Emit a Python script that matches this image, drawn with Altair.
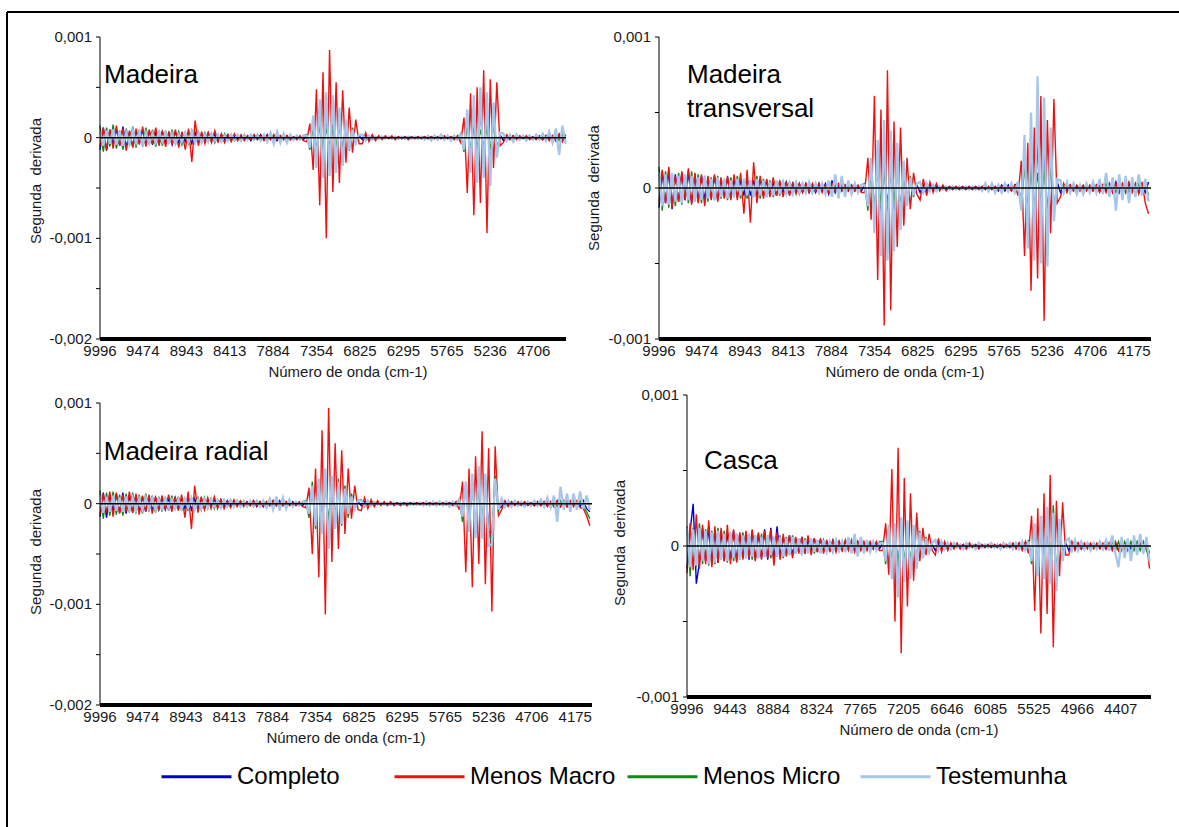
import altair as alt
import pandas as pd

# ---------------- sampling axis (wavenumber, cm-1) ----------------
WN_STEP = 40
N_POINTS = 151
WAVENUMBERS = [9996 - WN_STEP * i for i in range(N_POINTS)]

SERIES = ["Completo", "Menos Macro", "Menos Micro", "Testemunha"]
COLORS = ["#0000d0", "#ee1111", "#138a1a", "#a6c6ea"]

TICKS_WOOD = [9996, 9474, 8943, 8413, 7884, 7354, 6825, 6295, 5765, 5236, 4706, 4175]
TICKS_CASCA = [9996, 9443, 8884, 8324, 7765, 7205, 6646, 6085, 5525, 4966, 4407]
YTICKS_3 = [-0.002, -0.0015, -0.001, -0.0005, 0.0, 0.0005, 0.001]
YTICKS_2 = [-0.001, -0.0005, 0.0, 0.0005, 0.001]
YLAB_VALS_3 = [0.001, 0.0, -0.001, -0.002]
YLAB_TEXT_3 = ["0,001", "0", "-0,001", "-0,002"]
YLAB_VALS_2 = [0.001, 0.0, -0.001]
YLAB_TEXT_2 = ["0,001", "0", "-0,001"]

# ---------------- second-derivative values, units of 1e-5 ----------------
# ---- Madeira ----
MADEIRA_COMPLETO = (
    [-12,10,-13,8,-7,9,-8,11,-10,6, -9,7,-6,8,-8,7,-7,5,-6,6, -5,5,-7,6,-5,4,-4,6,-6,5] +
    [-5,4,-4,5,-3,3,-4,3,-2,3, -3,2,-2,2,-2,2,-3,2,-2,3, -2,3,-2,2,-3,2,-2,2,-2,1, -1,1,-2] +
    [2,-8,12,-15,20,-18,22,-20,18,-16, 14,-12,10,-8,6,-4,2] +
    [-2,2,-2,1,-1,1,-1,1,-1,1, -1,1,-1,1,-1,1,-1,1,-1,1, -1,1,-1,1,-1,1,-1,1,-1,1] +
    [2,-8,18,-22,26,-28,30,-26,28,-30, 22,-12,3] +
    [-3,2,-2,2,-1,1,-1,1,-1,1, -1,1,-2,2,-2,2,-3,3,-3,3, -2,2,-2,2,-2,2,-2,3]
)
MADEIRA_MENOS_MACRO = (
    [-9,10,-12,8,-11,12,-8,9,-13,7, -10,9,-7,11,-9,8,-6,10,-8,7, -9,6,-7,8,-10,6,-12,9,-24,17] +
    [-8,6,-6,5,-5,7,-4,4,-5,3, -4,4,-3,3,-3,2,-2,3,-2,2, -3,2,-2,3,-2,2,-2,2,-2,1, -2,2,-3] +
    [-4,14,-32,48,-67,65,-100,87,-54,55, -45,47,-25,30,-15,18,-6] +
    [-6,5,-4,3,-3,2,-2,2,-1,2, -2,1,-1,1,-2,1,-1,1,-1,1, -1,1,-1,1,-1,2,-1,1,-2,2] +
    [-5,20,-55,44,-77,50,-65,67,-95,58, -30,55,-8] +
    [-5,3,-2,2,-2,2,-1,2,-2,1, -2,2,-2,2,-3,2,-3,4,-4,3, -3,3,-3,2,-2,3,-6,4]
)
MADEIRA_MENOS_MICRO = (
    [12,-14,10,-9,13,-11,7,-12,9,-8, 11,-10,8,-9,10,-7,8,-9,6,-8, 7,-6,8,-5,6,-7,5,-6,7,-5] +
    [6,-5,5,-4,4,-5,3,-4,4,-3, 3,-3,2,-3,3,-2,2,-2,3,-2, 2,-2,3,-2,2,-3,2,-2,1,-2, 2,-1,2] +
    [3,-12,15,-14,12,-10,9,-8,10,-9, 12,-14,16,-13,10,-6,3] +
    [3,-3,2,-2,1,-1,1,-1,1,-1, 1,-1,1,-1,1,-1,1,-1,1,-1, 1,-1,1,-1,1,-1,1,-1,1,-2] +
    [4,-14,15,-12,10,-10,8,-9,10,-12, 14,-15,5] +
    [4,-3,2,-2,2,-1,1,-1,2,-1, 1,-2,2,-2,2,-2,3,-3,3,-3, 2,-2,3,-2,2,-2,3,-4]
)
MADEIRA_TESTEMUNHA = (
    [6,-8,7,-6,8,-7,6,-8,5,-6, 7,-5,6,-7,5,-6,4,-5,6,-4, 5,-5,4,-6,3,-4,5,-4,6,-5] +
    [4,-5,3,-4,4,-3,3,-4,2,-3, 3,-2,3,-3,2,-2,3,-2,2,-3, 3,-4,5,-6,6,-5,4,-5,3,-2, 2,-2,2] +
    [2,-10,22,-30,38,-40,45,-38,42,-35, 30,-28,18,-12,8,-5,3] +
    [3,-2,2,-2,1,-1,1,-1,1,-1, 1,-1,1,-1,1,-1,1,-1,1,-2, 2,-3,2,-2,3,-2,2,-3,2,-2] +
    [3,-12,28,-35,42,-45,50,-40,45,-48, 35,-20,5] +
    [4,-3,3,-4,3,-2,2,-3,2,-2, 3,-2,4,-3,6,-5,9,-17,12,-6, 5,-4,6,-5,4,-3,4,-3]
)

# ---- Madeira transversal ----
TRANSV_COMPLETO = (
    [-13,11,-10,12,-14,9,-9,10,-8,11, -10,9,-9,8,-8,7,-7,8,-8,6, -6,7,-7,6,-6,5,-5,6,-5,5] +
    [-6,6,-5,5,-4,4,-5,4,-3,4, -4,3,-3,3,-3,3,-3,2,-3,3, -2,3,-4,5,-3,2,-2,2,-2,2, -2,1,-2] +
    [2,-10,14,-18,20,-20,22,-22,20,-20, 16,-14,10,-8,5,-4,2] +
    [-3,2,-2,2,-1,1,-1,1,-1,1, -1,1,-1,1,-1,1,-1,1,-1,1, -1,1,-1,1,-2,2,-2,2,-2,2] +
    [3,-10,20,-25,30,-32,35,-30,32,-34, 25,-14,4] +
    [-3,2,-2,2,-2,1,-1,1,-1,1, -2,2,-2,2,-2,3,-3,4,-3,3, -3,3,-2,3,-3,2,-3,4]
)
TRANSV_MENOS_MACRO = (
    [-9,12,-10,14,-13,8,-9,11,-8,13, -11,10,-10,9,-12,8,-8,9,-9,7, -7,8,-8,9,-8,10,-17,12,-23,17] +
    [-10,8,-7,6,-6,7,-5,5,-6,4, -5,4,-4,3,-3,3,-3,3,-2,3, -3,2,-3,3,-2,3,-2,2,-2,2, -2,2,-3] +
    [-3,20,-21,61,-61,52,-91,78,-81,44, -39,40,-25,20,-14,10,-4] +
    [-8,6,-5,4,-3,3,-2,2,-2,1, -1,1,-1,1,-1,1,-1,1,-1,1, -1,1,-1,1,-1,1,-1,1,-2,2] +
    [-5,18,-45,30,-68,40,-60,61,-88,45, -30,59,-10] +
    [-6,3,-3,2,-2,2,-2,2,-2,2, -2,2,-3,2,-3,3,-3,3,-3,3, -3,4,-3,3,-4,4,-10,-17]
)
TRANSV_MENOS_MICRO = (
    [14,-15,11,-13,9,-12,10,-11,8,-10, 11,-9,9,-10,8,-9,7,-8,8,-7, 6,-8,7,-6,8,-7,6,-7,5,-6] +
    [8,-7,6,-6,5,-6,4,-5,5,-4, 4,-4,3,-4,3,-3,3,-3,3,-2, 3,-2,3,-3,2,-3,2,-2,2,-2, 2,-2,2] +
    [3,-15,16,-14,12,-12,10,-10,10,-11, 14,-16,12,-10,8,-6,3] +
    [4,-3,3,-2,2,-1,1,-1,1,-1, 1,-1,1,-1,1,-1,1,-1,1,-1, 1,-1,1,-1,1,-1,1,-1,1,-2] +
    [4,-14,16,-14,12,-12,10,-10,12,-14, 15,-16,5] +
    [5,-3,2,-2,2,-2,2,-1,2,-2, 2,-2,2,-2,3,-3,3,-3,3,-3, 3,-3,3,-3,3,-3,3,-5]
)
TRANSV_TESTEMUNHA = (
    [10,-12,9,-11,10,-9,8,-10,9,-8, 8,-9,7,-8,8,-7,6,-8,7,-6, 6,-7,5,-6,6,-5,6,-5,5,-6] +
    [6,-5,5,-6,4,-5,5,-4,4,-4, 3,-4,4,-3,3,-3,4,-3,3,-3, 3,-4,5,-6,9,-7,8,-6,5,-4, 3,-3,2] +
    [2,-12,20,-30,32,-45,45,-48,38,-42, 30,-28,18,-12,7,-5,3] +
    [4,-3,3,-2,2,-2,1,-1,1,-1, 1,-1,1,-1,1,-1,1,-1,1,-2, 3,-2,3,-3,2,-3,3,-2,3,-3] +
    [4,-15,35,-40,50,-48,74,-50,60,-52, 40,-22,6] +
    [5,-3,4,-3,3,-4,2,-4,3,-3, 4,-3,6,-4,10,-6,7,-15,9,-8, 8,-10,7,-6,9,-5,6,-9]
)

# ---- Madeira radial ----
RADIAL_COMPLETO = (
    [-13,11,-14,9,-8,10,-9,11,-10,8, -9,8,-8,7,-8,7,-7,6,-6,6, -6,5,-6,6,-5,5,-5,6,-6,5] +
    [-5,5,-5,4,-3,4,-3,4,-3,3, -2,3,-2,2,-2,2,-2,3,-3,2, -3,2,-2,3,-2,3,-2,2,-1,2, -1,1,-2] +
    [2,-9,15,-18,20,-22,24,-28,20,-18, 18,-16,12,-8,6,-4,2] +
    [-2,2,-1,2,-1,1,-1,1,-1,1, -1,1,-1,1,-1,1,-1,1,-1,1, -1,1,-1,1,-1,1,-1,1,-1,1] +
    [3,-10,16,-20,22,-25,26,-26,24,-28, -30,20,-5] +
    [-3,2,-2,2,-1,1,-1,1,-1,1, -2,2,-2,2,-2,2,-3,3,-3,3, -3,2,-2,2,-3,3,-5,-8]
)
RADIAL_MENOS_MACRO = (
    [-11,10,-9,12,-13,11,-10,9,-8,12, -9,10,-11,8,-8,9,-10,7,-7,8, -6,9,-8,7,-7,9,-14,12,-25,18] +
    [-9,7,-6,6,-5,7,-5,4,-5,3, -4,4,-3,3,-3,2,-2,3,-2,2, -3,2,-2,3,-2,2,-2,2,-2,1, -2,2,-3] +
    [-4,16,-50,35,-73,73,-110,95,-58,60, -45,53,-30,35,-15,18,-6] +
    [-7,6,-5,4,-3,3,-2,2,-2,2, -2,1,-2,1,-2,1,-1,1,-1,1, -1,1,-1,1,-1,1,-1,1,-2,2] +
    [-6,22,-68,35,-83,47,-60,72,-80,55, -107,57,-12] +
    [-6,3,-3,2,-2,2,-2,2,-2,1, -2,2,-2,2,-3,2,-3,3,-3,3, -3,3,-3,3,-4,-5,-12,-22]
)
RADIAL_MENOS_MICRO = (
    [13,-15,11,-12,12,-11,9,-12,10,-9, 11,-10,9,-10,10,-8,8,-9,7,-8, 7,-7,8,-6,7,-7,6,-7,6,-6] +
    [7,-6,6,-5,5,-5,4,-4,4,-3, 4,-3,3,-3,3,-2,2,-3,3,-2, 2,-2,3,-2,2,-3,2,-2,1,-2, 2,-1,2] +
    [3,-14,22,-25,24,-22,20,-18,22,-24, 25,-22,18,-14,10,-6,3] +
    [4,-3,3,-2,2,-1,1,-1,1,-1, 1,-1,1,-1,1,-1,1,-1,1,-1, 1,-1,1,-1,1,-1,1,-1,2,-2] +
    [5,-18,20,-25,22,-24,20,-22,24,-30, -37,28,-8] +
    [5,-3,2,-2,2,-2,1,-1,2,-1, 2,-2,2,-2,2,-2,3,-3,3,-3, 3,-3,3,-3,3,-3,-8,-15]
)
RADIAL_TESTEMUNHA = (
    [8,-9,7,-8,8,-7,6,-8,7,-6, 6,-7,5,-6,6,-5,5,-6,4,-5, 5,-4,4,-5,4,-5,5,-4,5,-6] +
    [4,-5,4,-4,4,-3,3,-4,3,-3, 3,-3,3,-3,2,-3,3,-2,2,-3, 3,-4,5,-6,7,-7,6,-5,4,-3, 2,-2,2] +
    [2,-10,18,-22,25,-30,35,-45,28,-25, 22,-20,15,-10,7,-5,3] +
    [3,-2,2,-2,1,-1,1,-1,1,-1, 1,-1,1,-1,1,-1,1,-1,1,-2, 2,-2,2,-2,2,-2,2,-3,2,-2] +
    [4,-13,22,-28,30,-34,37,-35,30,-42, -40,25,-6] +
    [5,-3,3,-3,3,-2,2,-3,2,-2, 3,-2,4,-3,6,-4,8,-18,17,-6, 10,-8,10,-6,12,-5,8,-6]
)

# ---- Casca ----
CASCA_COMPLETO = (
    [-15,10,28,-25,-11,12,-10,13,-12,11, -11,10,-10,9,-9,10,-10,8,-8,9, -9,10,-9,8,-8,11,-9,12,-10,13] +
    [-7,6,-5,7,-6,5,-4,6,-5,4, -3,5,-4,4,-3,3,-3,4,-3,3, -3,3,-2,3,-3,3,-2,2,-2,2, -2,2,-2] +
    [2,-8,10,-15,12,-20,14,-16,12,-14, 9,-10,6,-5,3,-3,1] +
    [-3,2,-2,2,-2,1,-1,1,-1,1, -1,1,-1,1,-1,1,-1,1,-1,1, -1,1,-1,1,-1,1,-1,2,-2,2] +
    [2,-8,12,-15,15,-18,18,-20,18,-22, 12,-6,2] +
    [-3,2,-2,2,-2,1,-1,1,-1,1, -1,1,-2,2,-2,2,-3,2,-3,3, -2,2,-2,2,-2,2,-5,2]
)
CASCA_MENOS_MACRO = (
    [-18,15,-16,21,-15,14,-12,17,-14,13, -11,12,-10,14,-12,11,-11,9,-9,10, -8,11,-10,9,-9,10,-8,11,-13,9] +
    [-9,8,-7,7,-8,6,-5,6,-5,7, -6,5,-4,5,-5,4,-4,4,-4,3, -3,4,-3,4,-4,3,-3,3,-3,3, -2,3,-3] +
    [-3,15,-19,51,-50,65,-71,45,-40,35, -23,22,-10,12,-6,8,-3] +
    [-6,5,-4,3,-3,2,-2,2,-2,1, -2,2,-1,1,-2,1,-1,1,-1,1, -1,1,-1,1,-1,2,-2,2,-3,3] +
    [-5,20,-43,25,-58,35,-45,47,-67,30, -20,29,-6] +
    [-6,3,-3,2,-2,2,-2,2,-2,2, -2,2,-2,2,-3,3,-3,3,-3,3, -8,3,-3,4,-4,3,-15,4]
)
CASCA_MENOS_MICRO = (
    [13,-20,12,-14,15,-12,11,-13,10,-12, 12,-9,10,-11,9,-10,8,-9,9,-8, 8,-9,7,-8,8,-7,7,-8,6,-7] +
    [7,-8,6,-6,7,-5,5,-6,5,-4, 4,-5,4,-4,4,-3,3,-4,3,-3, 3,-3,3,-3,3,-3,3,-2,2,-3, 2,-2,3] +
    [3,-12,12,-14,10,-12,8,-10,8,-10, 10,-12,10,-8,6,-4,2] +
    [4,-3,3,-2,2,-2,1,-1,1,-1, 1,-1,1,-1,1,-1,1,-1,1,-1, 1,-1,1,-1,1,-1,2,-2,2,-2] +
    [4,-12,14,-16,18,-16,20,-18,27,-20, 15,-8,3] +
    [5,-3,3,-2,2,-2,2,-1,2,-1, 2,-2,2,-2,3,-3,3,-3,3,-3, 3,-3,3,-3,3,-3,-8,3]
)
CASCA_TESTEMUNHA = (
    [12,-14,11,-13,12,-10,10,-12,9,-11, 10,-9,8,-10,9,-8,8,-9,7,-8, 8,-7,7,-8,6,-7,7,-6,6,-7] +
    [6,-7,5,-6,6,-5,5,-6,4,-5, 5,-4,4,-5,4,-4,3,-4,4,-3, 3,-4,6,-5,8,-7,6,-5,4,-4, 3,-3,2] +
    [2,-10,14,-22,15,-34,19,-24,17,-22, 14,-15,9,-8,5,-4,2] +
    [4,-3,3,-2,2,-2,2,-1,1,-2, 2,-1,1,-2,2,-1,1,-1,2,-1, 1,-2,2,-1,2,-2,2,-2,3,-3] +
    [3,-10,15,-20,20,-22,26,-25,22,-30, 18,-10,3] +
    [5,-3,4,-3,3,-2,2,-3,2,-2, 3,-2,4,-3,7,-5,-14,6,-8,5, -10,7,-6,8,-5,6,-10,-4]
)

FONT = "Liberation Sans"
TXT = "#1a1a1a"


def long_table(series_lists):
    rows = []
    for name, vals in zip(SERIES, series_lists):
        if len(vals) != N_POINTS:
            raise ValueError(f"{name}: {len(vals)} values")
        for wn, v in zip(WAVENUMBERS, vals):
            rows.append({"wn": wn, "val": v * 1e-5, "serie": name})
    return pd.DataFrame(rows)


ONE = pd.DataFrame({"k": [0]})

COLOR = alt.Color(
    "serie:N",
    sort=SERIES,
    scale=alt.Scale(domain=SERIES, range=COLORS),
    legend=alt.Legend(
        title=None, orient="none", legendX=160, legendY=740,
        direction="horizontal", columns=4, gridAlign="all",
        symbolType="stroke", symbolSize=4900, symbolStrokeWidth=3,
        labelFont=FONT, labelFontSize=24, labelColor="black",
        labelOffset=4, columnPadding=5, padding=0, labelLimit=300,
    ),
)


def panel(df, texts, x_domain, x_range, y_domain, y_range, x_ticks, y_ticks,
          ylab_vals, ylab_text, ytitle_dist, ytitle_val, xtitle_dx=0):
    xs = alt.Scale(domain=x_domain, range=x_range, nice=False, zero=False)
    ys = alt.Scale(domain=y_domain, range=y_range, nice=False, zero=False)
    x0, x1 = x_domain
    ymin, ymax = y_domain
    px_per_wn = (x_range[1] - x_range[0]) / (x0 - x1)

    def XD(v):
        return alt.XDatum(v, type="quantitative", scale=xs, axis=None)

    def YD(v):
        return alt.YDatum(v, type="quantitative", scale=ys, axis=None)

    ticks_in = [t for t in x_ticks if x1 <= t <= x0]

    base = alt.Chart(df).transform_filter(alt.datum.wn >= x1)
    enc = dict(
        x=alt.X("wn:Q", scale=xs, axis=None),
        y=alt.Y("val:Q", scale=ys, axis=None),
        color=COLOR,
    )
    lines_main = base.transform_filter(
        alt.datum.serie != "Testemunha"
    ).mark_line(strokeWidth=1.4).encode(**enc)
    lines_test = base.transform_filter(
        alt.datum.serie == "Testemunha"
    ).mark_line(strokeWidth=2.3).encode(**enc)

    zero = alt.Chart(ONE).mark_rule(color="black", strokeWidth=1.5).encode(
        x=XD(x0), x2=alt.X2Datum(x1), y=YD(0)
    )
    y_dom = alt.Chart(ONE).mark_rule(color="black", strokeWidth=1).encode(
        x=XD(x0), y=YD(ymin), y2=alt.Y2Datum(ymax)
    )
    y_tick = alt.Chart(pd.DataFrame({"t": y_ticks})).mark_rule(
        color="black", strokeWidth=1
    ).encode(
        x=XD(x0), x2=alt.X2Datum(x0 + 4 / px_per_wn),
        y=alt.Y("t:Q", scale=ys, axis=None),
    )
    y_lab = alt.Chart(pd.DataFrame({"v": ylab_vals, "lab": ylab_text})).mark_text(
        align="right", baseline="middle", dx=-8, font=FONT, fontSize=15, color=TXT
    ).encode(
        x=XD(x0), y=alt.Y("v:Q", scale=ys, axis=None), text="lab:N"
    )
    x_bar = alt.Chart(ONE).mark_rule(color="black", strokeWidth=4).encode(
        x=XD(x0), x2=alt.X2Datum(x1), y=YD(ymin)
    )
    x_lab = alt.Chart(pd.DataFrame({"t": ticks_in})).mark_text(
        align="center", baseline="top", dy=5, font=FONT, fontSize=15, color=TXT
    ).encode(
        x=alt.X("t:Q", scale=xs, axis=None), y=YD(ymin),
        text=alt.Text("t:Q", format="d"),
    )
    x_title = alt.Chart(ONE).mark_text(
        text="Número de onda (cm-1)", align="center", baseline="top",
        dy=26, dx=xtitle_dx, font=FONT, fontSize=15, color=TXT,
    ).encode(x=XD((x0 + x1) / 2), y=YD(ymin))
    y_title = alt.Chart(ONE).mark_text(
        text="Segunda\u00a0 derivada", align="center", baseline="middle",
        angle=270, font=FONT, fontSize=15, color=TXT,
    ).encode(x=XD(x0 + ytitle_dist / px_per_wn), y=YD(ytitle_val))

    layers = [lines_main, lines_test, zero, y_dom, y_tick, y_lab, x_bar,
              x_lab, x_title, y_title]
    for txt, wn, val in texts:
        layers.append(
            alt.Chart(ONE).mark_text(
                text=txt, align="left", baseline="alphabetic",
                font=FONT, fontSize=26, color="black",
            ).encode(x=XD(wn), y=YD(val))
        )
    return alt.layer(*layers)


p1 = panel(
    long_table([MADEIRA_COMPLETO, MADEIRA_MENOS_MACRO, MADEIRA_MENOS_MICRO, MADEIRA_TESTEMUNHA]),
    [("Madeira", 9947, 0.000543)],
    [9996, 4312], [100, 566], [-0.002, 0.001], [339, 37],
    TICKS_WOOD, YTICKS_3, YLAB_VALS_3, YLAB_TEXT_3, 64, -0.00043, xtitle_dx=15,
)
p2 = panel(
    long_table([TRANSV_COMPLETO, TRANSV_MENOS_MACRO, TRANSV_MENOS_MICRO, TRANSV_TESTEMUNHA]),
    [("Madeira", 9653, 0.000695), ("transversal", 9653, 0.000470)],
    [9996, 3966], [659, 1151], [-0.001, 0.001], [339, 37],
    TICKS_WOOD, YTICKS_2, YLAB_VALS_2, YLAB_TEXT_2, 65, 0.0,
)
p3 = panel(
    long_table([RADIAL_COMPLETO, RADIAL_MENOS_MACRO, RADIAL_MENOS_MICRO, RADIAL_TESTEMUNHA]),
    [("Madeira radial", 9950, 0.000434)],
    [9996, 3970], [100, 592], [-0.002, 0.001], [705, 403],
    TICKS_WOOD, YTICKS_3, YLAB_VALS_3, YLAB_TEXT_3, 64, -0.00048,
)
p4 = panel(
    long_table([CASCA_COMPLETO, CASCA_MENOS_MACRO, CASCA_MENOS_MICRO, CASCA_TESTEMUNHA]),
    [("Casca", 9777, 0.00051)],
    [9996, 4017], [687, 1151], [-0.001, 0.001], [697, 395],
    TICKS_CASCA, YTICKS_2, YLAB_VALS_2, YLAB_TEXT_2, 67, 0.00002,
)

frame_v = alt.Chart(ONE).mark_rule(color="black", strokeWidth=2).encode(
    x=alt.value(7), y=alt.value(12), y2=alt.value(827)
)
frame_h = alt.Chart(ONE).mark_rule(color="black", strokeWidth=2).encode(
    x=alt.value(7), x2=alt.value(1179), y=alt.value(12)
)

chart = alt.layer(frame_v, frame_h, p1, p2, p3, p4).resolve_scale(
    x="independent", y="independent"
).properties(
    width=1179, height=827, padding=0,
    autosize=alt.AutoSizeParams(type="none"),
).configure_view(
    stroke="transparent"
)

chart.save("out.html", embed_options={"renderer": "svg", "actions": False})
